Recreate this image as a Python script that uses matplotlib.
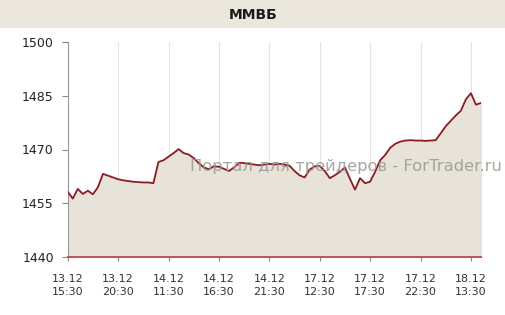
import matplotlib.pyplot as plt
import numpy as np
from matplotlib.patches import Rectangle

# значения индекса ММВБ
values = [1458.2, 1456.3, 1459.0, 1457.6, 1458.5, 1457.5, 1459.5, 1463.2, 1462.7, 1462.2,
          1461.7, 1461.4, 1461.2, 1461.0, 1460.9, 1460.8, 1460.8, 1460.6, 1466.5, 1467.0,
          1468.0, 1469.0, 1470.1, 1469.0, 1468.6, 1467.6, 1466.2, 1465.0, 1464.5, 1465.3,
          1465.2, 1464.6, 1464.0, 1465.0, 1466.3, 1466.2, 1466.0, 1465.8, 1465.6, 1465.8,
          1466.0, 1465.8, 1466.0, 1465.8, 1465.5, 1464.0, 1462.8, 1462.2, 1464.4, 1465.3,
          1465.4, 1464.0, 1462.0, 1462.8, 1463.8, 1465.0, 1461.8, 1458.8, 1462.0, 1460.6,
          1461.0, 1463.8, 1467.0, 1468.5, 1470.5, 1471.6, 1472.2, 1472.5, 1472.6, 1472.5,
          1472.5, 1472.4, 1472.5, 1472.6, 1474.5, 1476.5, 1478.0, 1479.5, 1480.8, 1484.0,
          1485.7, 1482.5, 1483.0]
tick_labels = ["13.12\n15:30", "13.12\n20:30", "14.12\n11:30", "14.12\n16:30", "14.12\n21:30",
               "17.12\n12:30", "17.12\n17:30", "17.12\n22:30", "18.12\n13:30"]
y_ticks = [1440, 1455, 1470, 1485, 1500]

x = np.arange(len(values))

fig = plt.figure(figsize=(5.06, 3.15), dpi=100)
fig.patch.set_facecolor('white')

# полоса заголовка
fig.patches.append(Rectangle((0, 1 - 28/315), 1, 28/315, transform=fig.transFigure,
                             facecolor='#ebe7dd', edgecolor='none', zorder=0))
fig.text(0.5, 1 - 15/315, "ММВБ", ha='center', va='center', fontsize=10,
         fontweight='bold', color='#1a1a1a')

ax = fig.add_axes([67.7/506, 1 - 257/315, (481 - 67.7)/506, (257 - 42)/315])
ax.fill_between(x, values, 1440, color='#e8e3d9', zorder=1)
ax.plot(x, values, color='#8b1c24', lw=1.3, zorder=3)

ax.set_xlim(0, len(values) - 1)
ax.set_ylim(1440, 1500)
ax.set_xticks(np.arange(0, 81, 10))
ax.set_xticklabels(tick_labels, linespacing=1.45)
ax.set_yticks(y_ticks)
ax.tick_params(axis='x', length=3, color='#888888', labelsize=8, labelcolor='#333333', pad=9)
ax.tick_params(axis='y', length=4, color='#888888', labelsize=9, labelcolor='#222222', pad=6)
ax.grid(axis='x', color='#e4e4e4', lw=0.8, zorder=0)
ax.set_axisbelow(True)

for s in ['top', 'right']:
    ax.spines[s].set_visible(False)
ax.spines['left'].set_color('#999999')
ax.spines['bottom'].set_color('#c0585c')
ax.spines['bottom'].set_linewidth(1.5)
ax.spines['bottom'].set_zorder(4)

# водяной знак
fig.text(190/506, 1 - 167/315, "Портал для трейдеров - ForTrader.ru", ha='left', va='center',
         fontsize=11.8, color='#9a9692', alpha=0.85, zorder=10)

fig.savefig('out.png', dpi=100)
